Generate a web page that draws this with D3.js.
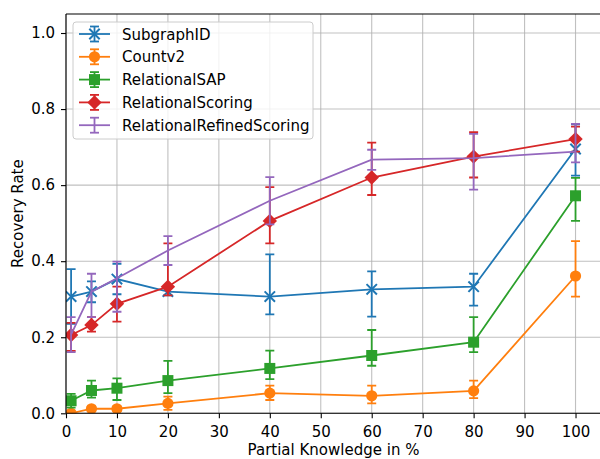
<!DOCTYPE html>
<html>
<head>
<meta charset="utf-8">
<script src="https://cdn.jsdelivr.net/npm/d3@7"></script>
<style>
  html, body { margin: 0; padding: 0; background: #fff; }
  svg { display: block; font-family: "DejaVu Sans", sans-serif; }
</style>
</head>
<body>
<svg id="chart" width="600" height="459"></svg>
<script>
// ---- data ----
const xValues = [1, 5, 10, 20, 40, 60, 80, 100];
const xTicks = [0, 10, 20, 30, 40, 50, 60, 70, 80, 90, 100];
const yTicks = [0.0, 0.2, 0.4, 0.6, 0.8, 1.0];

const seriesNames = ["SubgraphID", "Countv2", "RelationalSAP", "RelationalScoring", "RelationalRefinedScoring"];

const subgraphMean = [0.307, 0.320, 0.353, 0.320, 0.307, 0.326, 0.333, 0.695];
const subgraphLow  = [0.235, 0.292, 0.313, 0.310, 0.260, 0.254, 0.283, 0.625];
const subgraphHigh = [0.379, 0.347, 0.393, 0.331, 0.418, 0.373, 0.367, 0.760];

const countMean = [0.000, 0.012, 0.012, 0.026, 0.053, 0.046, 0.059, 0.361];
const countLow  = [0.000, 0.006, 0.006, 0.009, 0.035, 0.026, 0.040, 0.307];
const countHigh = [0.000, 0.018, 0.018, 0.044, 0.073, 0.073, 0.086, 0.453];

const sapMean = [0.033, 0.060, 0.066, 0.086, 0.118, 0.152, 0.187, 0.572];
const sapLow  = [0.015, 0.041, 0.035, 0.053, 0.090, 0.125, 0.161, 0.506];
const sapHigh = [0.051, 0.086, 0.092, 0.138, 0.165, 0.219, 0.253, 0.619];

const scoringMean = [0.206, 0.232, 0.288, 0.333, 0.506, 0.620, 0.675, 0.721];
const scoringLow  = [0.164, 0.215, 0.241, 0.310, 0.447, 0.574, 0.620, 0.688];
const scoringHigh = [0.238, 0.253, 0.333, 0.447, 0.595, 0.712, 0.739, 0.754];

const refinedMean = [0.207, 0.320, 0.355, 0.428, 0.559, 0.667, 0.671, 0.688];
const refinedLow  = [0.161, 0.253, 0.267, 0.390, 0.497, 0.640, 0.588, 0.660];
const refinedHigh = [0.253, 0.367, 0.399, 0.466, 0.621, 0.693, 0.735, 0.761];

const colors = ["#1f77b4", "#ff7f0e", "#2ca02c", "#d62728", "#9467bd"];
const markers = ["x", "circle", "square", "diamond", "none"];

const series = [
  {name: seriesNames[0], mean: subgraphMean, low: subgraphLow, high: subgraphHigh, color: colors[0], marker: markers[0]},
  {name: seriesNames[1], mean: countMean, low: countLow, high: countHigh, color: colors[1], marker: markers[1]},
  {name: seriesNames[2], mean: sapMean, low: sapLow, high: sapHigh, color: colors[2], marker: markers[2]},
  {name: seriesNames[3], mean: scoringMean, low: scoringLow, high: scoringHigh, color: colors[3], marker: markers[3]},
  {name: seriesNames[4], mean: refinedMean, low: refinedLow, high: refinedHigh, color: colors[4], marker: markers[4]},
];

// ---- layout ----
const L = 66, R = 601, T = 14, B = 413.3;
const FS = "15px";
const svg = d3.select("#chart");
const x = d3.scaleLinear().domain([0, 105]).range([L, R]);
const y = d3.scaleLinear().domain([0, 1.05]).range([B, T]);

svg.append("defs").append("clipPath").attr("id", "clip")
  .append("rect").attr("x", L).attr("y", T).attr("width", R - L).attr("height", B - T);

// grid
const grid = svg.append("g");
grid.selectAll("line.gx").data(xTicks).enter().append("line")
  .attr("x1", d => x(d)).attr("x2", d => x(d)).attr("y1", T).attr("y2", B)
  .attr("stroke", "#b0b0b0").attr("stroke-width", 1.1).attr("stroke-opacity", 0.8);
grid.selectAll("line.gy").data(yTicks).enter().append("line")
  .attr("x1", L).attr("x2", R).attr("y1", d => y(d)).attr("y2", d => y(d))
  .attr("stroke", "#b0b0b0").attr("stroke-width", 1.1).attr("stroke-opacity", 0.8);

// axes
const xAxis = d3.axisBottom(x).tickValues(xTicks).tickFormat(d3.format("d")).tickSize(5).tickPadding(8);
const yAxis = d3.axisLeft(y).tickValues(yTicks).tickFormat(d3.format(".1f")).tickSize(5).tickPadding(6);
const gx = svg.append("g").attr("transform", `translate(0,${B})`).call(xAxis);
const gy = svg.append("g").attr("transform", `translate(${L},0)`).call(yAxis);
[gx, gy].forEach(g => {
  g.select(".domain").remove();
  g.selectAll(".tick line").attr("stroke", "#000").attr("stroke-width", 1.1);
  g.selectAll(".tick text").attr("fill", "#000").style("font-size", FS).style("font-family", "DejaVu Sans");
});

// data
const plot = svg.append("g").attr("clip-path", "url(#clip)");
const capHalf = 4.5;

function drawMarker(g, type, cx, cy, color) {
  if (type === "x") {
    const s = 5.2;
    g.append("path").attr("d", `M${cx - s},${cy - s}L${cx + s},${cy + s}M${cx - s},${cy + s}L${cx + s},${cy - s}`)
      .attr("stroke", color).attr("stroke-width", 2).attr("fill", "none");
  } else if (type === "circle") {
    g.append("circle").attr("cx", cx).attr("cy", cy).attr("r", 5.6).attr("fill", color);
  } else if (type === "square") {
    const s = 5.5;
    g.append("rect").attr("x", cx - s).attr("y", cy - s).attr("width", 2 * s).attr("height", 2 * s).attr("fill", color);
  } else if (type === "diamond") {
    const s = 7.2;
    g.append("path").attr("d", `M${cx},${cy - s}L${cx + s},${cy}L${cx},${cy + s}L${cx - s},${cy}Z`).attr("fill", color);
  }
}

const line = d3.line().x(d => x(d[0])).y(d => y(d[1]));

series.forEach(s => {
  const g = plot.append("g");
  const pts = xValues.map((xv, i) => [xv, s.mean[i]]);
  g.append("path").datum(pts).attr("d", line).attr("fill", "none")
    .attr("stroke", s.color).attr("stroke-width", 1.8);
  xValues.forEach((xv, i) => {
    const px = x(xv), y1 = y(s.low[i]), y2 = y(s.high[i]);
    g.append("line").attr("x1", px).attr("x2", px).attr("y1", y1).attr("y2", y2)
      .attr("stroke", s.color).attr("stroke-width", 1.8);
    [y1, y2].forEach(yy => {
      g.append("line").attr("x1", px - capHalf).attr("x2", px + capHalf).attr("y1", yy).attr("y2", yy)
        .attr("stroke", s.color).attr("stroke-width", 1.8);
    });
  });
  xValues.forEach((xv, i) => drawMarker(g, s.marker, x(xv), y(s.mean[i]), s.color));
});

// spines
svg.append("line").attr("x1", L).attr("x2", L).attr("y1", T).attr("y2", B).attr("stroke", "#000").attr("stroke-width", 1.1);
svg.append("line").attr("x1", L).attr("x2", R).attr("y1", B).attr("y2", B).attr("stroke", "#000").attr("stroke-width", 1.1);
svg.append("line").attr("x1", L).attr("x2", R).attr("y1", T).attr("y2", T).attr("stroke", "#000").attr("stroke-width", 1.1);
svg.append("line").attr("x1", R).attr("x2", R).attr("y1", T).attr("y2", B).attr("stroke", "#000").attr("stroke-width", 1.1);

// axis labels
svg.append("text").attr("x", (L + R) / 2).attr("y", 455).attr("text-anchor", "middle")
  .style("font-size", FS).text("Partial Knowledge in %");
svg.append("text").attr("transform", `translate(23,${(T + B) / 2}) rotate(-90)`).attr("text-anchor", "middle")
  .style("font-size", FS).text("Recovery Rate");

// legend
const lg = svg.append("g");
lg.append("rect").attr("x", 73).attr("y", 22).attr("width", 240).attr("height", 117).attr("rx", 3)
  .attr("fill", "#fff").attr("fill-opacity", 0.8).attr("stroke", "#cccccc").attr("stroke-width", 1);
series.forEach((s, i) => {
  const cy = 34 + i * 22.8;
  const g = lg.append("g");
  g.append("line").attr("x1", 79).attr("x2", 110).attr("y1", cy).attr("y2", cy).attr("stroke", s.color).attr("stroke-width", 1.8);
  g.append("line").attr("x1", 94.5).attr("x2", 94.5).attr("y1", cy - 7.5).attr("y2", cy + 7.5).attr("stroke", s.color).attr("stroke-width", 1.8);
  [cy - 7.5, cy + 7.5].forEach(yy => g.append("line").attr("x1", 94.5 - capHalf).attr("x2", 94.5 + capHalf)
    .attr("y1", yy).attr("y2", yy).attr("stroke", s.color).attr("stroke-width", 1.8));
  drawMarker(g, s.marker, 94.5, cy, s.color);
  lg.append("text").attr("x", 122).attr("y", cy + 5.5).style("font-size", FS).attr("fill", "#000").text(s.name);
});
</script>
</body>
</html>
